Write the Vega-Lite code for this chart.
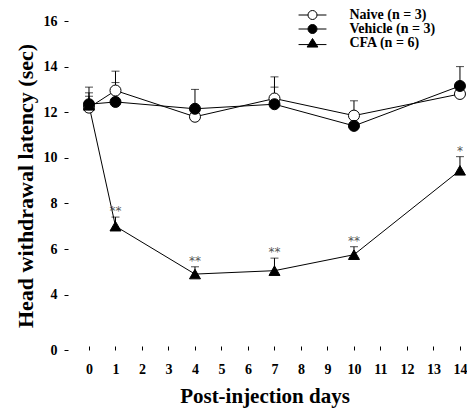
{
  "$schema": "https://vega.github.io/schema/vega-lite/v6.json",
  "autosize": "none",
  "padding": {"left": 64, "top": 21, "right": 2, "bottom": 58},
  "width": 401,
  "height": 329,
  "config": {
    "view": {"stroke": null},
    "font": "Liberation Serif",
    "axis": {"grid": false, "labelFont": "Liberation Serif", "labelFontWeight": "bold", "labelFontSize": 14, "labelColor": "black", "titleFont": "Liberation Serif", "titleFontWeight": "bold", "titleColor": "black", "tickColor": "black", "tickWidth": 1},
    "legend": {"labelFont": "Liberation Serif", "labelFontWeight": "bold", "labelFontSize": 14, "labelColor": "black"}
  },
  "data": {
    "values": [
      {"group": "Naive (n = 3)", "day": 0, "mean": 12.2, "upper": 12.7, "sig": ""},
      {"group": "Naive (n = 3)", "day": 1, "mean": 12.95, "upper": 13.8, "sig": ""},
      {"group": "Naive (n = 3)", "day": 4, "mean": 11.8, "upper": 12.0, "sig": ""},
      {"group": "Naive (n = 3)", "day": 7, "mean": 12.6, "upper": 13.55, "sig": ""},
      {"group": "Naive (n = 3)", "day": 10, "mean": 11.85, "upper": 12.5, "sig": ""},
      {"group": "Naive (n = 3)", "day": 14, "mean": 12.8, "upper": 13.2, "sig": ""},
      {"group": "Vehicle (n = 3)", "day": 0, "mean": 12.35, "upper": 13.1, "sig": ""},
      {"group": "Vehicle (n = 3)", "day": 1, "mean": 12.45, "upper": 13.3, "sig": ""},
      {"group": "Vehicle (n = 3)", "day": 4, "mean": 12.15, "upper": 13.0, "sig": ""},
      {"group": "Vehicle (n = 3)", "day": 7, "mean": 12.35, "upper": 13.1, "sig": ""},
      {"group": "Vehicle (n = 3)", "day": 10, "mean": 11.4, "upper": 11.7, "sig": ""},
      {"group": "Vehicle (n = 3)", "day": 14, "mean": 13.15, "upper": 14.0, "sig": ""},
      {"group": "CFA (n = 6)", "day": 0, "mean": 12.3, "upper": 12.85, "sig": ""},
      {"group": "CFA (n = 6)", "day": 1, "mean": 7.0, "upper": 7.4, "sig": "**"},
      {"group": "CFA (n = 6)", "day": 4, "mean": 4.9, "upper": 5.22, "sig": "**"},
      {"group": "CFA (n = 6)", "day": 7, "mean": 5.05, "upper": 5.6, "sig": "**"},
      {"group": "CFA (n = 6)", "day": 10, "mean": 5.75, "upper": 6.1, "sig": "**"},
      {"group": "CFA (n = 6)", "day": 14, "mean": 9.45, "upper": 10.05, "sig": "*"}
    ]
  },
  "encoding": {
    "x": {"field": "day", "type": "quantitative", "scale": {"domain": [-0.943, 14.19], "nice": false, "zero": false},
      "axis": {"values": [0,1,2,3,4,5,6,7,8,9,10,11,12,13,14], "domain": false, "offset": -4, "tickSize": 4, "labelPadding": 12, "labelFlush": false, "title": "Post-injection days", "titleFontSize": 21, "titlePadding": 9}},
    "y": {"field": "mean", "type": "quantitative", "scale": {"domain": [0, 3, 16], "range": [329, 296.4, 0], "nice": false, "zero": false},
      "axis": {"values": [0,4,6,8,10,12,14,16], "domain": false, "offset": -4, "tickSize": 4, "labelPadding": 7, "labelFlush": false, "title": "Head withdrawal latency (sec)", "titleFontSize": 22, "titlePadding": 6}}
  },
  "layer": [
    {
      "data": {"values": [{}]},
      "mark": {"type": "rule", "color": "black", "strokeWidth": 1},
      "encoding": {"x": {"datum": -0.943}, "y": {"datum": 3.06}, "y2": {"datum": 16}}
    },
    {
      "data": {"values": [{}]},
      "mark": {"type": "rule", "color": "black", "strokeWidth": 1},
      "encoding": {"x": {"datum": -0.943}, "y": {"datum": 0}, "y2": {"datum": 2.35}}
    },
    {
      "data": {"values": [{}]},
      "mark": {"type": "rule", "color": "black", "strokeWidth": 1},
      "encoding": {"x": {"datum": -1.03}, "x2": {"datum": -0.83}, "y": {"datum": 2.94}, "y2": {"datum": 3.19}}
    },
    {
      "data": {"values": [{}]},
      "mark": {"type": "rule", "color": "black", "strokeWidth": 1},
      "encoding": {"x": {"datum": -1.03}, "x2": {"datum": -0.83}, "y": {"datum": 2.12}, "y2": {"datum": 2.58}}
    },
    {
      "data": {"values": [{}]},
      "mark": {"type": "rule", "color": "black", "strokeWidth": 1},
      "encoding": {"x": {"datum": -0.527}, "x2": {"datum": 14.19}, "y": {"datum": 0}}
    },
    {
      "mark": {"type": "rule", "color": "black", "strokeWidth": 1},
      "encoding": {"y2": {"field": "upper"}}
    },
    {
      "mark": {"type": "tick", "orient": "horizontal", "color": "black", "size": 8, "thickness": 1},
      "encoding": {"y": {"field": "upper", "type": "quantitative"}}
    },
    {
      "mark": {"type": "line", "color": "black", "strokeWidth": 1},
      "encoding": {"detail": {"field": "group"}, "order": {"field": "day"}}
    },
    {
      "mark": {"type": "point", "stroke": "black", "strokeWidth": 1, "opacity": 1, "filled": false},
      "encoding": {
        "shape": {"field": "group", "type": "nominal", "scale": {"domain": ["Naive (n = 3)", "Vehicle (n = 3)", "CFA (n = 6)"], "range": ["circle", "circle", "triangle-up"]}, "legend": null},
        "fill": {"field": "group", "type": "nominal", "scale": {"domain": ["Naive (n = 3)", "Vehicle (n = 3)", "CFA (n = 6)"], "range": ["white", "black", "black"]}, "legend": null},
        "size": {"field": "group", "type": "nominal", "scale": {"domain": ["Naive (n = 3)", "Vehicle (n = 3)", "CFA (n = 6)"], "range": [121, 121, 150]}, "legend": null}
      }
    },
    {
      "mark": {"type": "text", "font": "DejaVu Sans", "fontSize": 12, "color": "#555555", "baseline": "alphabetic", "dy": -2},
      "encoding": {"y": {"field": "upper", "type": "quantitative"}, "text": {"field": "sig"}}
    },
    {
      "mark": {"type": "point", "opacity": 0, "size": 81, "strokeWidth": 1},
      "encoding": {
        "shape": {"field": "group", "type": "nominal", "scale": {"domain": ["Naive (n = 3)", "Vehicle (n = 3)", "CFA (n = 6)"], "range": ["M-3.1,0H-1M1,0H3.1M1,0A1,1 0 1,1 -1,0A1,1 0 1,1 1,0Z", "M-3.1,0H-1M1,0H3.1M1,0A1,1 0 1,1 -1,0A1,1 0 1,1 1,0Z", "M-3.1,0.35H3.1M0,-1L1.2,0.9L-1.2,0.9Z"]},
          "legend": {"orient": "none", "legendX": 241.5, "legendY": -13, "title": null, "padding": 0, "rowPadding": -7, "labelOffset": 30, "symbolOpacity": 1, "symbolStrokeWidth": 1, "symbolSize": 81}},
        "fill": {"field": "group", "type": "nominal", "scale": {"domain": ["Naive (n = 3)", "Vehicle (n = 3)", "CFA (n = 6)"], "range": ["white", "black", "black"]},
          "legend": {"orient": "none", "legendX": 241.5, "legendY": -13, "title": null, "padding": 0, "rowPadding": -7, "labelOffset": 30, "symbolOpacity": 1, "symbolStrokeWidth": 1, "symbolSize": 81}},
        "stroke": {"field": "group", "type": "nominal", "scale": {"domain": ["Naive (n = 3)", "Vehicle (n = 3)", "CFA (n = 6)"], "range": ["black", "black", "black"]},
          "legend": {"orient": "none", "legendX": 241.5, "legendY": -13, "title": null, "padding": 0, "rowPadding": -7, "labelOffset": 30, "symbolOpacity": 1, "symbolStrokeWidth": 1, "symbolSize": 81}}
      }
    }
  ],
  "resolve": {"scale": {"shape": "independent", "fill": "independent", "size": "independent", "stroke": "independent"}}
}
